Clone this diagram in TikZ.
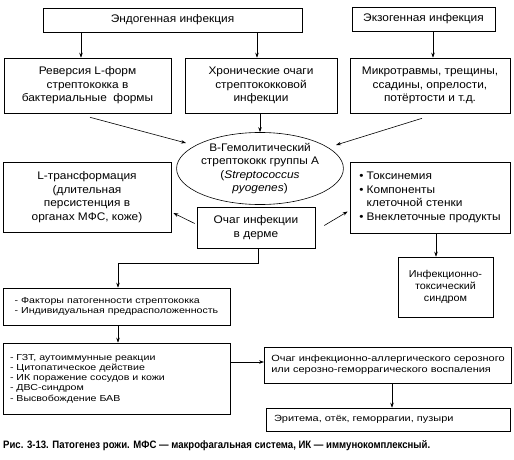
\documentclass[tikz,border=0pt]{standalone}
\usepackage{fontspec}
\setmainfont{Liberation Sans}
\newfontfamily\fA{Liberation Sans}[FakeStretch=1.08]
\newfontfamily\fB{Liberation Sans}[FakeStretch=1.22]
\usetikzlibrary{arrows.meta,shapes.geometric}
\begin{document}
\begin{tikzpicture}[x=1pt,y=-1pt,
  box/.style={draw,line width=0.6pt,inner sep=0pt,align=center,font=\fA\fontsize{11}{13.5}\selectfont},
  lbx/.style={draw,line width=0.6pt,inner xsep=7pt,inner ysep=0pt,align=left,font=\fB\fontsize{8.7}{10.2}\selectfont},
  arr/.style={line width=0.6pt,-{Stealth[length=5pt,width=3.5pt]}}]
\useasboundingbox (0,0) rectangle (514,460);

% top row
\node[box,minimum width=259pt,minimum height=24pt] (endo) at (172.5,20) {Эндогенная инфекция};
\node[box,minimum width=143pt,minimum height=24pt] (exo) at (423.5,19) {Экзогенная инфекция};

\node[box,minimum width=167pt,minimum height=55pt] (rev) at (87.5,85.5) {Реверсия L-форм\\стрептококка в\\бактериальные\ \ формы};
\node[box,minimum width=152pt,minimum height=55pt] (chron) at (261,85.5) {Хронические очаги\\стрептококковой\\инфекции};
\node[box,minimum width=160pt,minimum height=55pt] (micro) at (430,85.5) {Микротравмы, трещины,\\ссадины, опрелости,\\потёртости и т.д.};

% ellipse
\node[box,ellipse,minimum width=162pt,minimum height=57pt] (ell) at (260,168.5) {В-Гемолитический\\стрептококк группы А\\(\textit{Streptococcus}\\\textit{pyogenes})};

\node[box,minimum width=168pt,minimum height=70pt] (lbox) at (87,197) {L-трансформация\\(длительная\\персистенция в\\органах МФС, коже)};
\node[box,minimum width=118pt,minimum height=41pt] (ochag) at (256,227.5) {Очаг инфекции\\в дерме};
\node[box,align=left,minimum width=160pt,minimum height=71pt] (toxin) at (430,197.5) {• Токсинемия\\• Компоненты\\\phantom{• }клеточной стенки\\• Внеклеточные продукты};
\node[box,font=\fA\fontsize{10}{12.2}\selectfont,minimum width=95pt,minimum height=60pt] (inftox) at (445.5,287) {Инфекционно-\\токсический\\синдром};

% lower part
\node[lbx,minimum width=227pt,minimum height=37pt] (factors) at (116.5,306.5) {- Факторы патогенности стрептококка\\- Индивидуальная предрасположенность};
\node[lbx,text width=213pt,minimum height=71pt] (gzt) at (116.5,378.5) {- ГЗТ, аутоиммунные реакции\\- Цитопатическое действие\\- ИК поражение сосудов и кожи\\- ДВС-синдром\\- Высвобождение БАВ};
\node[lbx,font=\fB\fontsize{9}{11}\selectfont,minimum width=244pt,minimum height=36pt] (ochag2) at (388,365) {Очаг инфекционно-аллергического серозного\\или серозно-геморрагического воспаления};
\node[lbx,font=\fB\fontsize{9}{11}\selectfont,text width=228pt,inner xsep=8pt,minimum height=23pt] (erit) at (388,419.5) {Эритема, отёк, геморрагии, пузыри};

% caption
\node[anchor=west,inner sep=0pt] (cap) at (3,446) {\resizebox{427pt}{8pt}{\bfseries Рис. 3-13. Патогенез рожи. МФС — макрофагальная система, ИК — иммунокомплексный.}};

% free ends near the ellipse
\coordinate (e1) at (186,143);
\coordinate (e2) at (336,145);

% connectors
\draw[arr] ([xshift=-6.5pt]rev.north |- endo.south) -- ([xshift=-6.5pt]rev.north);
\draw[arr] ([xshift=-4pt]chron.north |- endo.south) -- ([xshift=-4pt]chron.north);
\draw[arr] ([xshift=3pt]micro.north |- exo.south) -- ([xshift=3pt]micro.north);
\draw[arr] (chron.south -| ell.north) -- (ell.north);
\draw[arr] ([xshift=2.5pt,yshift=-4pt]rev.south) -- (e1);
\draw[arr] ([xshift=-8pt,yshift=-5pt]micro.south) -- (e2);
\draw[arr] ([xshift=-2pt,yshift=4pt]ochag.west) -- ([xshift=2pt,yshift=-16pt]lbox.east);
\draw[arr] ([xshift=9pt,yshift=2pt]ochag.east) -- ([xshift=-2pt,yshift=-14pt]toxin.west);
\draw[arr] ([xshift=-9.5pt]inftox.north |- toxin.south) -- ([xshift=-9.5pt]inftox.north);
\draw[arr] ([xshift=2pt]ochag.south) -- ++(0,15) -| ([xshift=1.5pt]factors.north);
\draw[arr] ([xshift=1.5pt]factors.south) -- ([xshift=1.5pt]gzt.north);
\draw[arr] ([yshift=3pt]ochag2.west -| gzt.east) -- ([yshift=3pt]ochag2.west);
\draw[arr] ([xshift=4pt]ochag2.south) -- ([xshift=4pt]erit.north);
\end{tikzpicture}
\end{document}
